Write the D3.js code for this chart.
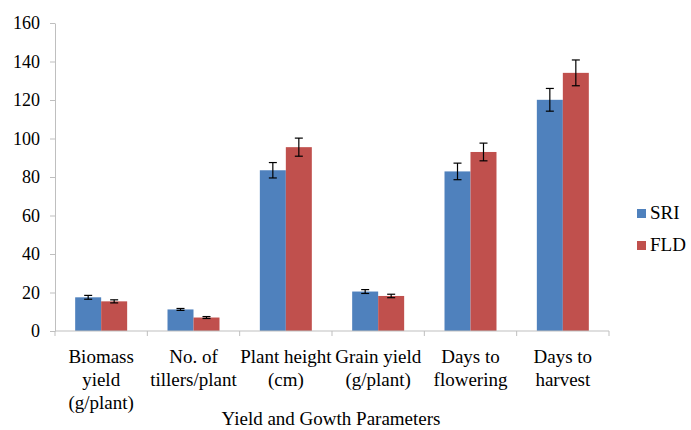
<!DOCTYPE html>
<html>
<head>
<meta charset="utf-8">
<script src="https://cdn.jsdelivr.net/npm/d3@7"></script>
<style>
  html, body { margin: 0; padding: 0; background: #fff; }
  svg { display: block; }
  text { font-family: "Liberation Serif", "Times New Roman", serif; fill: #000; }
</style>
</head>
<body>
<svg id="chart" width="691" height="430"></svg>
<script>
const categories = [
  ["Biomass", "yield", "(g/plant)"],
  ["No. of", "tillers/plant"],
  ["Plant height", "(cm)"],
  ["Grain yield", "(g/plant)"],
  ["Days to", "flowering"],
  ["Days to", "harvest"]
];
const seriesNames = ["SRI", "FLD"];
const sriValues = [17.5, 11.2, 83.5, 20.5, 82.9, 120.1];
const fldValues = [15.4, 7.0, 95.5, 18.2, 93.0, 134.1];
const sriErrors = [1.0, 0.5, 4.0, 1.0, 4.3, 5.9];
const fldErrors = [0.8, 0.5, 4.7, 0.9, 4.6, 6.7];
const yTicks = [0, 20, 40, 60, 80, 100, 120, 140, 160];
const xTitle = "Yield and Gowth Parameters";
const colors = ["#4f81bd", "#c0504d"];

const svg = d3.select("#chart");
const plotLeft = 55, plotRight = 609, plotTop = 23, plotBottom = 331;
const serif = "'Liberation Serif', 'Times New Roman', serif";

const x0 = d3.scaleBand()
  .domain(d3.range(categories.length))
  .range([plotLeft, plotRight])
  .paddingInner(0.437)
  .paddingOuter(0.2185);
const x1 = d3.scaleBand()
  .domain(seriesNames)
  .range([0, x0.bandwidth()]);
const y = d3.scaleLinear().domain([0, 160]).range([plotBottom, plotTop]);

// Y axis
const yAxis = d3.axisLeft(y).tickValues(yTicks).tickSize(5).tickSizeOuter(0).tickPadding(10);
const gy = svg.append("g").attr("transform", `translate(${plotLeft},0)`).call(yAxis)
  .attr("font-family", serif).attr("font-size", 18);
gy.select(".domain").attr("stroke", "#bfbfbf");
gy.selectAll(".tick line").attr("stroke", "#bfbfbf");
gy.selectAll(".tick text").attr("fill", "#000");

// Bars
const data = categories.map((c, i) => ({
  i,
  vals: [
    {s: seriesNames[0], v: sriValues[i], e: sriErrors[i], c: colors[0]},
    {s: seriesNames[1], v: fldValues[i], e: fldErrors[i], c: colors[1]}
  ]
}));

const groups = svg.append("g").selectAll("g").data(data).join("g")
  .attr("transform", d => `translate(${x0(d.i)},0)`);
groups.selectAll("rect").data(d => d.vals).join("rect")
  .attr("x", d => x1(d.s))
  .attr("y", d => y(d.v))
  .attr("width", x1.bandwidth())
  .attr("height", d => y(0) - y(d.v))
  .attr("fill", d => d.c);

// Error bars
const eb = groups.selectAll("g.err").data(d => d.vals).join("g").attr("class", "err");
const cap = 4;
eb.append("line")
  .attr("x1", d => x1(d.s) + x1.bandwidth() / 2)
  .attr("x2", d => x1(d.s) + x1.bandwidth() / 2)
  .attr("y1", d => y(d.v + d.e))
  .attr("y2", d => y(d.v - d.e))
  .attr("stroke", "#000").attr("stroke-width", 1.2);
eb.append("line")
  .attr("x1", d => x1(d.s) + x1.bandwidth() / 2 - cap)
  .attr("x2", d => x1(d.s) + x1.bandwidth() / 2 + cap)
  .attr("y1", d => y(d.v + d.e)).attr("y2", d => y(d.v + d.e))
  .attr("stroke", "#000").attr("stroke-width", 1.2);
eb.append("line")
  .attr("x1", d => x1(d.s) + x1.bandwidth() / 2 - cap)
  .attr("x2", d => x1(d.s) + x1.bandwidth() / 2 + cap)
  .attr("y1", d => y(d.v - d.e)).attr("y2", d => y(d.v - d.e))
  .attr("stroke", "#000").attr("stroke-width", 1.2);

// X axis
svg.append("line")
  .attr("x1", plotLeft).attr("x2", plotRight)
  .attr("y1", plotBottom).attr("y2", plotBottom)
  .attr("stroke", "#bfbfbf");
const boundaries = d3.range(categories.length + 1).map(k => plotLeft + k * (plotRight - plotLeft) / categories.length);
svg.append("g").selectAll("line").data(boundaries).join("line")
  .attr("x1", d => d).attr("x2", d => d)
  .attr("y1", plotBottom).attr("y2", plotBottom + 5)
  .attr("stroke", "#bfbfbf");

// Category labels
const labels = svg.append("g").selectAll("text").data(categories).join("text")
  .attr("text-anchor", "middle")
  .attr("font-size", 19)
  .attr("x", (d, i) => x0(i) + x0.bandwidth() / 2)
  .attr("y", 363);
labels.selectAll("tspan").data(d => d).join("tspan")
  .attr("x", function() { return d3.select(this.parentNode).attr("x"); })
  .attr("dy", (d, j) => j === 0 ? 0 : 23)
  .text(d => d);

// X title
svg.append("text")
  .attr("x", 331)
  .attr("y", 425)
  .attr("text-anchor", "middle")
  .attr("font-size", 19)
  .text(xTitle);

// Legend
const legend = svg.append("g").selectAll("g").data(seriesNames).join("g")
  .attr("transform", (d, i) => `translate(637,${209 + i * 32})`);
legend.append("rect").attr("width", 9).attr("height", 9).attr("fill", (d, i) => colors[i]);
legend.append("text").attr("x", 13).attr("y", 10).attr("font-size", 19).text(d => d);
</script>
</body>
</html>
